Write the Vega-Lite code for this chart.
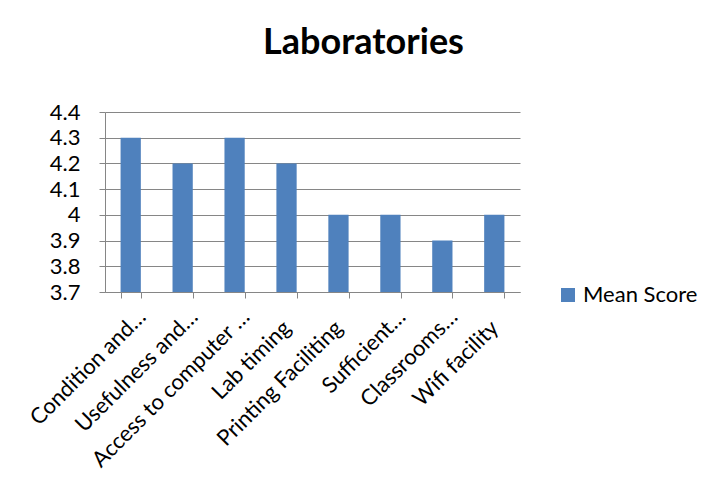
{
  "$schema": "https://vega.github.io/schema/vega-lite/v6.json",
  "width": 415,
  "height": 180,
  "autosize": {"type": "none"},
  "padding": {"left": 105, "top": 112, "right": 203, "bottom": 206},
  "background": "white",
  "title": {
    "text": "Laboratories",
    "font": "Lato",
    "fontSize": 36,
    "fontWeight": "bold",
    "color": "black",
    "anchor": "middle",
    "dx": 51,
    "offset": 39
  },
  "data": {
    "values": [
      {"item": "Condition and…", "series": "Mean Score", "score": 4.3},
      {"item": "Usefulness and…", "series": "Mean Score", "score": 4.2},
      {"item": "Access to computer …", "series": "Mean Score", "score": 4.3},
      {"item": "Lab timing", "series": "Mean Score", "score": 4.2},
      {"item": "Printing Faciliting", "series": "Mean Score", "score": 4.0},
      {"item": "Sufficient…", "series": "Mean Score", "score": 4.0},
      {"item": "Classrooms…", "series": "Mean Score", "score": 3.9},
      {"item": "Wifi facility", "series": "Mean Score", "score": 4.0}
    ]
  },
  "mark": {"type": "bar", "clip": true},
  "encoding": {
    "x": {
      "field": "item",
      "type": "nominal",
      "sort": null,
      "title": null,
      "scale": {"paddingInner": 0.61, "paddingOuter": 0.3},
      "axis": {
        "labelAngle": -45,
        "labelAlign": "right",
        "labelBaseline": "middle",
        "labelFont": "Lato",
        "labelFontSize": 22,
        "labelColor": "black",
        "labelPadding": {"expr": "indexof(datum.label, '…') >= 0 ? 15 : 26"},
        "labelOffset": {"expr": "indexof(datum.label, '…') >= 0 ? 11 : 0"},
        "labelLimit": 300,
        "domainColor": "#868686",
        "tickColor": "#868686",
        "tickSize": 6,
        "tickBand": "extent",
        "grid": false
      }
    },
    "y": {
      "field": "score",
      "type": "quantitative",
      "title": null,
      "scale": {"domain": [3.7, 4.4], "zero": false, "nice": false},
      "axis": {
        "values": [3.7, 3.8, 3.9, 4.0, 4.1, 4.2, 4.3, 4.4],
        "format": ".1~f",
        "labelFont": "Lato",
        "labelFontSize": 22,
        "labelColor": "black",
        "labelPadding": 19,
        "domainColor": "#868686",
        "tickColor": "#868686",
        "tickSize": 6,
        "gridColor": "#868686",
        "gridWidth": 1
      }
    },
    "color": {
      "field": "series",
      "type": "nominal",
      "scale": {"range": ["#4F81BD"]},
      "legend": {
        "title": null,
        "orient": "none",
        "legendX": 452,
        "legendY": 172,
        "symbolType": "square",
        "symbolSize": 196,
        "symbolOpacity": 1,
        "symbolStrokeWidth": 0,
        "labelFont": "Lato",
        "labelFontSize": 22,
        "labelColor": "black"
      }
    }
  },
  "config": {
    "view": {"stroke": null}
  }
}
